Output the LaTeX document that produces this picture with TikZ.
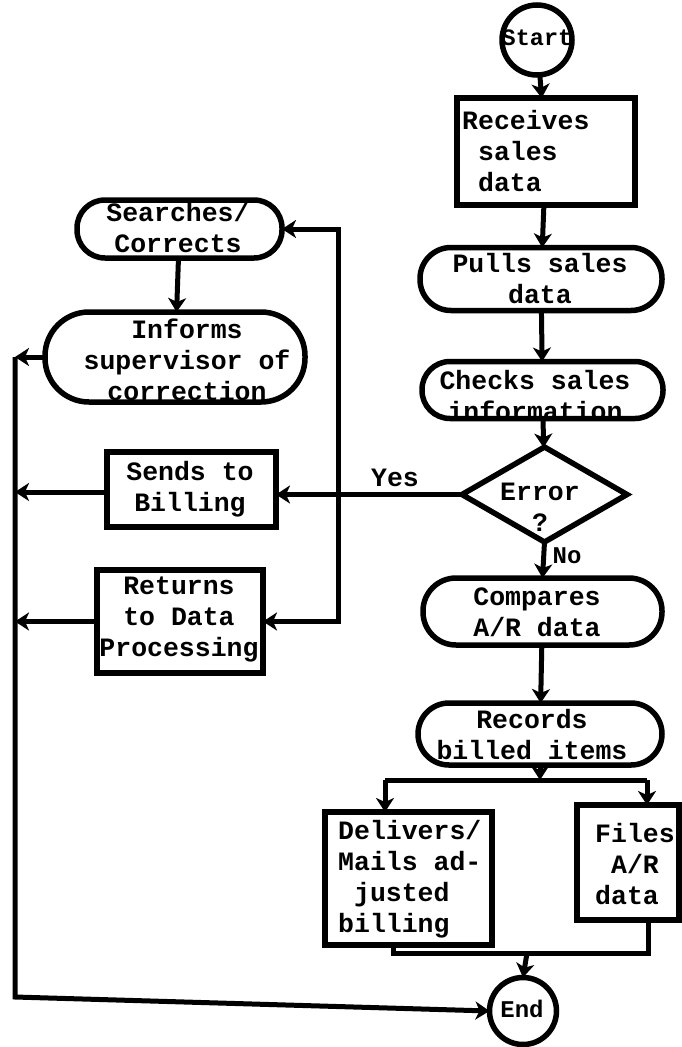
\documentclass[tikz,border=0pt]{standalone}
\usepackage{fontspec}
\setmonofont{Liberation Mono}
\usetikzlibrary{arrows.meta,shapes.geometric}

\tikzset{
  every picture/.style={x=1pt,y=-1pt},
  frame/.style={draw, line width=5.5pt, inner sep=0pt, outer sep=0pt},
  boxshape/.style={frame, rectangle},
  stad/.style={frame, rectangle, rounded corners=#1},
  termshape/.style={frame, circle},
  decide/.style={frame, diamond},
  txt/.style={inner sep=0pt, align=center,
    font=\ttfamily\bfseries\fontsize{26.5}{31}\selectfont},
  ltxt/.style={txt, align=left, anchor=west},
  conn/.style={line width=5pt},
  tip/.style={},
  arr/.style={conn, -{Stealth[length=14pt,width=18pt,inset=4pt]}},
  dblarr/.style={conn, {Stealth[length=14pt,width=18pt,inset=4pt]}-{Stealth[length=14pt,width=18pt,inset=4pt]}},
}

\begin{document}
\begin{tikzpicture}
\useasboundingbox (0,0) rectangle (681,1047);

% ---- main column ----
\node[termshape, minimum size=70pt] (start) at (537,40) {};
\node[txt, font=\ttfamily\bfseries\fontsize{23.5}{28}\selectfont] (start-t) at (537,38) {Start};

\node[boxshape, minimum width=178pt, minimum height=107pt] (recv) at (546,151.5) {};
\node[ltxt] (recv-t) at (462,151) {Receives\\\hphantom{a}sales\\\hphantom{a}data};

\node[stad=31pt, minimum width=242pt, minimum height=63pt] (pulls) at (541,279) {};
\node[txt] (pulls-t) at (540,279) {Pulls sales\\data};

\node[stad=28pt, minimum width=241pt, minimum height=57pt] (checks) at (542.5,390) {};
\node[txt] (checks-t) at (535,396) {Checks sales\\information};

\node[decide, minimum width=165pt, minimum height=95pt] (err) at (544.5,494.5) {};
\node[txt] (err-t) at (540,507) {Error\\?};

\node[stad=33pt, minimum width=239pt, minimum height=67pt] (comp) at (542.5,611.5) {};
\node[txt] (comp-t) at (537,612) {Compares\\A/R data};

\node[stad=31pt, minimum width=244pt, minimum height=62pt] (rec) at (540,734) {};
\node[txt] (rec-t) at (532,735) {Records\\billed items};

\node[boxshape, minimum width=167pt, minimum height=133pt] (deliv) at (408.5,878.5) {};
\node[ltxt] (deliv-t) at (338,879) {Delivers/\\Mails ad-\\\hphantom{a}justed\\billing};

\node[boxshape, minimum width=102pt, minimum height=115pt] (files) at (628,862.5) {};
\node[ltxt] (files-t) at (595,864) {Files\\\hphantom{a}A/R\\data};

\node[termshape, minimum size=67pt] (end) at (523,1011) {};
\node[txt, font=\ttfamily\bfseries\fontsize{24}{28}\selectfont] (end-t) at (522,1009) {End};

% ---- correction column ----
\node[stad=28pt, minimum width=205pt, minimum height=58pt] (search) at (179.5,229) {};
\node[txt] (search-t) at (178,228) {Searches/\\Corrects};

\node[stad=44pt, minimum width=260pt, minimum height=90pt] (inform) at (175,357) {};
\node[txt] (inform-t) at (187,360) {Informs\\supervisor of\\correction};

\node[boxshape, minimum width=169pt, minimum height=75pt] (sends) at (191.5,489.5) {};
\node[txt] (sends-t) at (190,489) {Sends to\\Billing};

\node[boxshape, minimum width=166pt, minimum height=103pt] (ret) at (180,621.5) {};
\node[txt] (ret-t) at (179,619) {Returns\\to Data\\Processing};

% ---- branch labels ----
\node[txt] (yes) at (395,478) {Yes};
\node[txt, font=\ttfamily\bfseries\fontsize{24}{28}\selectfont] (no) at (567,556) {No};

% ---- junction points ----
\coordinate (split) at (540,780);
\coordinate (splitL) at (385,780);
\coordinate (splitR) at (647,780);
\coordinate (joinL) at (393,953);
\coordinate (joinR) at (648,953);
\coordinate (join) at (527,953);
\coordinate (loop) at (338,621.5);
\coordinate (bus1) at (15,357);
\coordinate (bus2) at (15,492);
\coordinate (bus3) at (15,621.5);
\coordinate (busEnd) at (15,997);

% ---- connectors, main column ----
\draw[arr] (start) -- (recv);
\draw[arr] (recv) -- (pulls);
\draw[arr] (pulls) -- (checks);
\draw[arr] (checks) -- (err);
\draw[arr] (err.west) -- (sends.east |- err.west);
\draw[arr] (err.south) -- (comp.north);
\draw[arr] (comp) -- (rec);
\draw[arr] (rec.south) -- (split);
\draw[conn] (splitL) -- (splitR);
\draw[arr] (splitL) -- (splitL |- deliv.north);
\draw[arr] (splitR) -- (splitR |- files.north);
\draw[conn] (joinL |- deliv.south) -- (joinL) -- (joinR) -- (joinR |- files.south);
\draw[arr] (join) -- (end.north);

% ---- connectors, correction column ----
\draw[arr] (search) -- (inform);
\draw[dblarr] (ret.east) -- (loop) |- (search.east);
\draw[arr] (inform.west) -- (bus1);
\draw[arr] (sends.west |- bus2) -- (bus2);
\draw[arr] (ret.west) -- (bus3);
\draw[arr] (bus1) -- (busEnd) -- (end.west);
\end{tikzpicture}
\end{document}
